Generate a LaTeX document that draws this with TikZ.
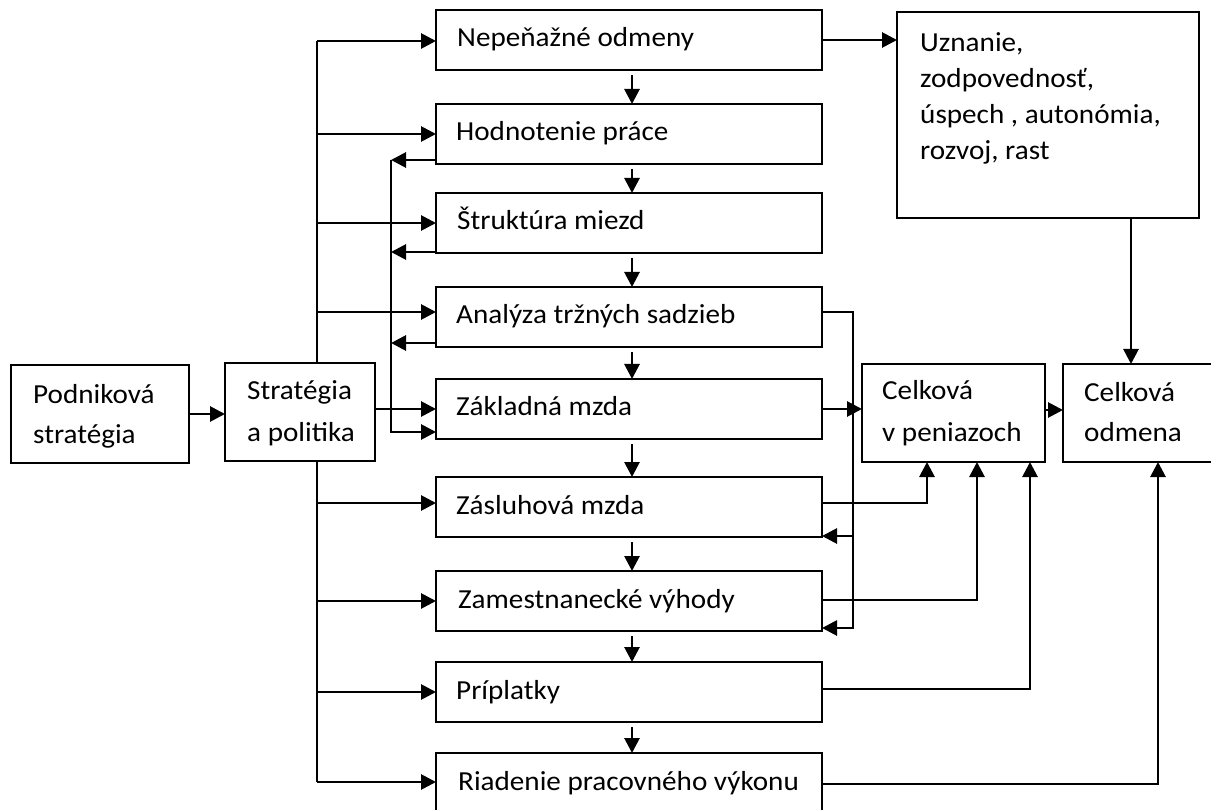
\documentclass[tikz,border=0pt]{standalone}
\usepackage{fontspec}
\setmainfont{Carlito}
\usetikzlibrary{arrows.meta}
\newcommand{\sx}[1]{\scalebox{1.06}[1]{#1}}
\begin{document}
\begin{tikzpicture}[x=1pt,y=-1pt,
  box/.style={draw=black, line width=1.4pt, inner sep=0pt, outer sep=0pt, anchor=north west},
  txt/.style={inner sep=0pt, anchor=base west, font=\fontsize{27.5}{30}\selectfont},
  conn/.style={line width=2.8pt},
  arr/.style={conn, -{Triangle[length=15pt,width=15pt]}},
]
\useasboundingbox (0,0) rectangle (1211,810);

% boxes
\node[box, minimum width=178pt, minimum height=98pt] (pod) at (11,365) {};
\node[box, minimum width=150pt, minimum height=98pt] (strat) at (225,363) {};
\node[box, minimum width=386pt, minimum height=60pt] (b1) at (436,10) {};
\node[box, minimum width=386pt, minimum height=60pt] (b2) at (436,104) {};
\node[box, minimum width=386pt, minimum height=60pt] (b3) at (436,193) {};
\node[box, minimum width=386pt, minimum height=60pt] (b4) at (436,287) {};
\node[box, minimum width=386pt, minimum height=60pt] (b5) at (436,379) {};
\node[box, minimum width=386pt, minimum height=60pt] (b6) at (436,477) {};
\node[box, minimum width=386pt, minimum height=60pt] (b7) at (436,571) {};
\node[box, minimum width=386pt, minimum height=60pt] (b8) at (436,662) {};
\node[box, minimum width=386pt, minimum height=62pt] (b9) at (436,753) {};
\node[box, minimum width=302pt, minimum height=206pt] (uzn) at (897,12) {};
\node[box, minimum width=183pt, minimum height=98pt] (cvp) at (862,364) {};
\node[box, minimum width=160pt, minimum height=98pt] (codm) at (1063,364) {};

% texts
\node[txt] (podA) at (33,403) {\sx{Podniková}};
\node[txt] (podB) at (33,443) {\sx{stratégia}};
\node[txt] (stratA) at (247,400) {\sx{Stratégia}};
\node[txt] (stratB) at (247,442) {\sx{a politika}};
\node[txt] (t1) at (457,47) {\sx{Nepeňažné odmeny}};
\node[txt] (t2) at (456,141) {\sx{Hodnotenie práce}};
\node[txt] (t3) at (457,230) {\sx{Štruktúra miezd}};
\node[txt] (t4) at (456,324) {\sx{Analýza tržných sadzieb}};
\node[txt] (t5) at (456,416) {\sx{Základná mzda}};
\node[txt] (t6) at (456,514) {\sx{Zásluhová mzda}};
\node[txt] (t7) at (458,608) {\sx{Zamestnanecké výhody}};
\node[txt] (t8) at (456,699) {\sx{Príplatky}};
\node[txt] (t9) at (458,790) {\sx{Riadenie pracovného výkonu}};
\node[txt] (uA) at (920,52) {\sx{Uznanie,}};
\node[txt] (uB) at (920,88) {\sx{zodpovednosť,}};
\node[txt] (uC) at (920,124) {\sx{úspech , autonómia,}};
\node[txt] (uD) at (920,160) {\sx{rozvoj, rast}};
\node[txt] (cvpA) at (882,400) {\sx{Celková}};
\node[txt] (cvpB) at (882,442) {\sx{v peniazoch}};
\node[txt] (codmA) at (1084,402) {\sx{Celková}};
\node[txt] (codmB) at (1084,442) {\sx{odmena}};

% helper coordinates
\coordinate (lt1) at (317,41);
\coordinate (lt2) at (317,782);
\coordinate (fb) at (391,160);
\coordinate (fbB) at (391,432);
\coordinate (rt) at (853,312);
\coordinate (b4in) at ([yshift=5pt]b4.west);
\coordinate (b6in) at ([yshift=4pt]b6.west);
\coordinate (f3) at ([yshift=1pt]b3.south west);
\coordinate (f4) at ([yshift=4pt]b4.south west);
\coordinate (b4r) at ([yshift=5pt]b4.east);
\coordinate (r6) at ([yshift=1pt]b6.south east);
\coordinate (r7) at ([yshift=3pt]b7.south east);
\coordinate (cvpOut) at ([yshift=3pt]cvp.east);
\coordinate (c6) at (927,0);
\coordinate (c7) at (977,0);
\coordinate (c8) at (1030,0);
\coordinate (c9) at (1158,0);
\coordinate (uc) at (1131,0);

% podnikova -> strategia
\draw[arr] (pod.east) -- (strat.west |- pod.east);

% left trunk
\draw[conn] (lt1) -- (lt1 |- strat.north);
\draw[conn] (lt1 |- strat.south) -- (lt2);
\draw[arr] (lt1) -- (b1.west |- lt1);
\draw[arr] (lt1 |- b2.west) -- (b2.west);
\draw[arr] (lt1 |- b3.west) -- (b3.west);
\draw[arr] (lt1 |- b4in) -- (b4in);
\draw[arr] (strat.east |- b5.west) -- (b5.west);
\draw[arr] (lt1 |- b6in) -- (b6in);
\draw[arr] (lt1 |- b7.west) -- (b7.west);
\draw[arr] (lt1 |- b8.west) -- (b8.west);
\draw[arr] (lt2) -- (b9.west |- lt2);

% feedback trunk
\draw[arr] ([yshift=4pt]b2.south west) -- (fb);
\draw[arr] (f3) -- (fb |- f3);
\draw[arr] (f4) -- (fb |- f4);
\draw[arr] (fb) -- (fbB) -- (b5.west |- fbB);

% vertical chain
\draw[arr, shorten <=5pt] ([xshift=3pt]b1.south) -- ([xshift=3pt]b2.north);
\draw[arr, shorten <=5pt] ([xshift=3pt]b2.south) -- ([xshift=3pt]b3.north);
\draw[arr, shorten <=5pt] ([xshift=3pt]b3.south) -- ([xshift=3pt]b4.north);
\draw[arr, shorten <=5pt] ([xshift=3pt]b4.south) -- ([xshift=3pt]b5.north);
\draw[arr, shorten <=5pt] ([xshift=3pt]b5.south) -- ([xshift=3pt]b6.north);
\draw[arr, shorten <=5pt] ([xshift=3pt]b6.south) -- ([xshift=3pt]b7.north);
\draw[arr, shorten <=5pt] ([xshift=3pt]b7.south) -- ([xshift=3pt]b8.north);
\draw[arr, shorten <=5pt] ([xshift=3pt]b8.south) -- ([xshift=3pt]b9.north);

% right side
\draw[arr] (b1.east) -- (uzn.west |- b1.east);
\draw[arr] (uzn.south -| uc) -- (codm.north -| uc);
\draw[arr] (b4r) -- (rt) -- (rt |- r7) -- (r7);
\draw[arr] (rt |- r6) -- (r6);
\draw[arr] (b5.east) -- (cvp.west |- b5.east);
\draw[arr] (cvpOut) -- (codm.west |- cvpOut);
\draw[arr] ([yshift=4pt]b6.east) -| (cvp.south -| c6);
\draw[arr] ([yshift=1pt]b7.east) -| (cvp.south -| c7);
\draw[arr] ([yshift=3pt]b8.east) -| (cvp.south -| c8);
\draw[arr] (b9.east) -| (codm.south -| c9);
\end{tikzpicture}
\end{document}
